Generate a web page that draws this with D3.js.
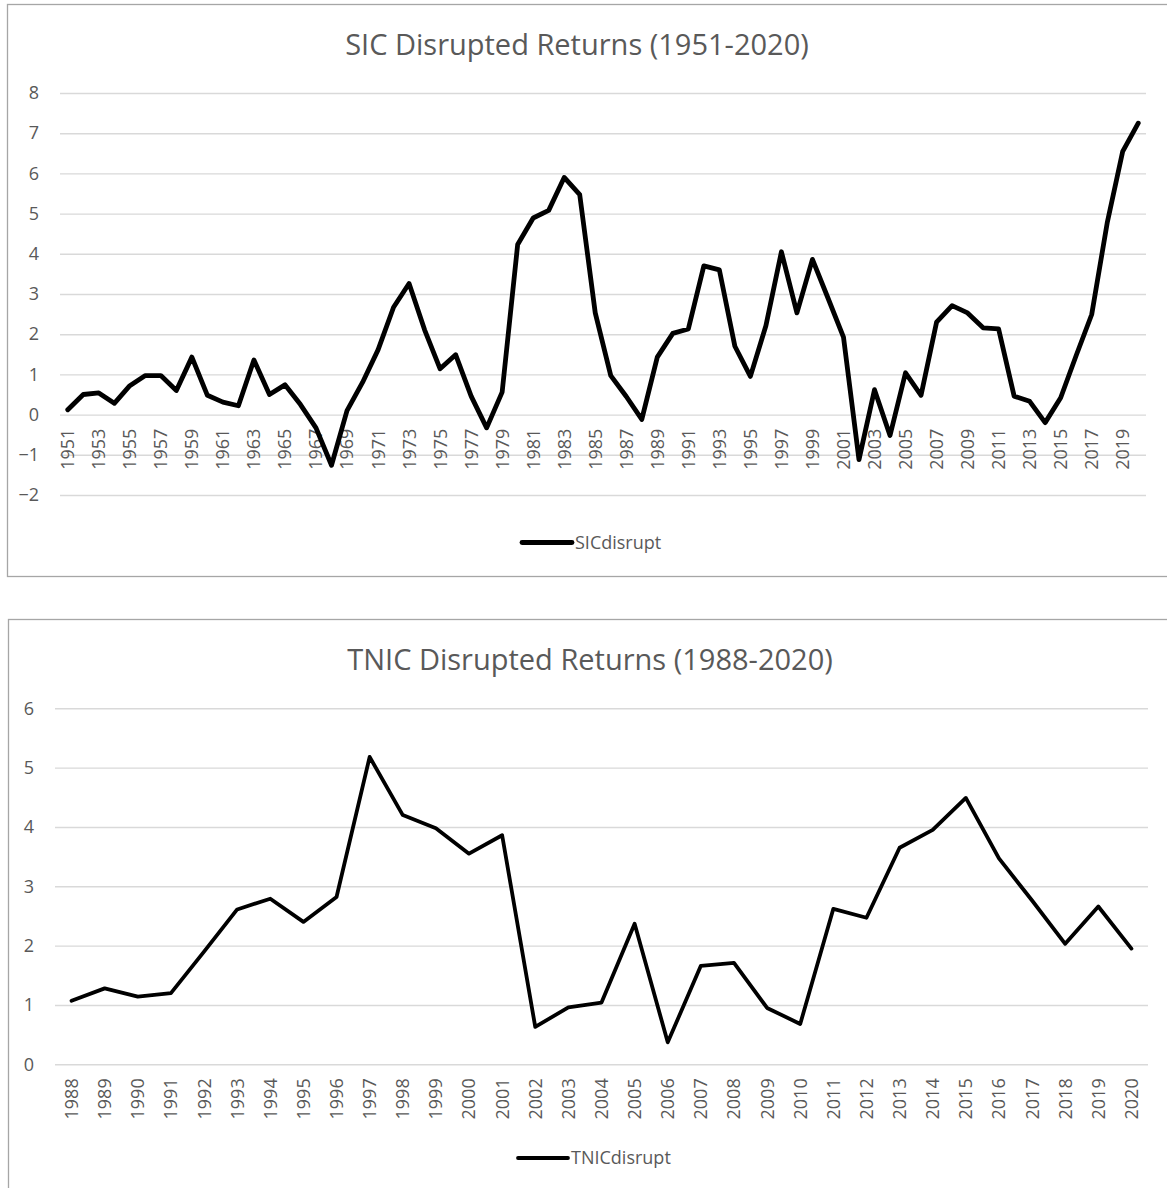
<!DOCTYPE html>
<html>
<head>
<meta charset="utf-8">
<script src="https://cdn.jsdelivr.net/npm/d3@7"></script>
<style>
  body { margin: 0; background: #fff; }
  svg text { font-family: 'Open Sans', sans-serif; fill: #595959; }
</style>
</head>
<body>
<div id="chart"></div>
<script>
// SIC series, 1951-2020
const sicYears = d3.range(1951, 2021).map(String)
const sicValues = [
  0.12, 0.50, 0.54, 0.28, 0.72, 0.97, 0.97, 0.60, 1.43, 0.48,
  0.31, 0.22, 1.36, 0.50, 0.74, 0.25, -0.33, -1.26, 0.10, 0.80,
  1.61, 2.67, 3.26, 2.11, 1.14, 1.49, 0.46, -0.33, 0.56, 4.23,
  4.89, 5.08, 5.90, 5.47, 2.53, 0.97, 0.45, -0.12, 1.43, 2.02,
  2.13, 3.70, 3.60, 1.70, 0.95, 2.21, 4.05, 2.53, 3.86, 2.90,
  1.93, -1.12, 0.62, -0.52, 1.04, 0.48, 2.30, 2.71, 2.53, 2.16,
  2.13, 0.46, 0.33, -0.20, 0.42, 1.47, 2.49, 4.77, 6.55, 7.25
]
const sicTicks = [-2, -1, 0, 1, 2, 3, 4, 5, 6, 7, 8]

// TNIC series, 1988-2020
const tnicYears = d3.range(1988, 2021).map(String)
const tnicValues = [
  1.07, 1.28, 1.14, 1.20, 1.90, 2.61, 2.79, 2.40, 2.82, 5.18,
  4.20, 3.98, 3.55, 3.86, 0.63, 0.96, 1.04, 2.37, 0.37, 1.66,
  1.71, 0.95, 0.68, 2.62, 2.47, 3.65, 3.95, 4.49, 3.47, 2.76,
  2.03, 2.66, 1.95
]
const tnicTicks = [0, 1, 2, 3, 4, 5, 6]

const W = 1167, H = 1188
const svg = d3.select('#chart').append('svg')
  .attr('width', W)
  .attr('height', H)

const drawPanel = (cfg) => {
  const g = svg.append('g')

  g.append('rect')
    .attr('x', cfg.box[0] + 0.5)
    .attr('y', cfg.box[1] + 0.5)
    .attr('width', cfg.box[2])
    .attr('height', cfg.box[3])
    .attr('fill', '#fff')
    .attr('stroke', '#a6a6a6')
    .attr('stroke-width', 1.3)

  g.append('text')
    .attr('x', cfg.titleX)
    .attr('y', cfg.titleY)
    .attr('text-anchor', 'middle')
    .style('font-size', '29px')
    .text(cfg.title)

  const x = d3.scaleBand().domain(cfg.years).range(cfg.xRange)
  const y = d3.scaleLinear().domain(d3.extent(cfg.ticks)).range(cfg.yRange)

  // gridlines + y labels
  const yAxis = g.append('g')
    .attr('transform', 'translate(' + cfg.xRange[0] + ',0)')
    .call(d3.axisLeft(y).tickValues(cfg.ticks).tickFormat(d3.format('d'))
      .tickSize(-(cfg.xRange[1] - cfg.xRange[0])).tickPadding(cfg.yPad))
  yAxis.select('.domain').remove()
  yAxis.selectAll('line').attr('stroke', '#d9d9d9').attr('stroke-width', 1.4)
  yAxis.selectAll('text').style('font-size', '18px').style('fill', '#595959')

  // rotated category labels
  const xAxis = g.append('g')
    .attr('transform', 'translate(0,' + y(0) + ')')
    .call(d3.axisBottom(x).tickSize(0)
      .tickValues(cfg.years.filter((d, i) => i % cfg.every === 0)))
  xAxis.select('.domain').remove()
  xAxis.selectAll('text')
    .style('font-size', '18px')
    .style('fill', '#595959')
    .attr('text-anchor', 'end')
    .attr('transform', 'rotate(-90)')
    .attr('x', -14)
    .attr('y', 0)
    .attr('dy', '0.36em')

  const line = d3.line()
    .x((d, i) => x(cfg.years[i]) + x.bandwidth() / 2)
    .y(d => y(d))

  g.append('path')
    .datum(cfg.values)
    .attr('d', line)
    .attr('fill', 'none')
    .attr('stroke', '#000')
    .attr('stroke-width', cfg.lineW)
    .attr('stroke-linejoin', 'round')
    .attr('stroke-linecap', 'round')

  // legend
  g.append('line')
    .attr('x1', cfg.legend[0])
    .attr('x2', cfg.legend[0] + 50)
    .attr('y1', cfg.legend[1])
    .attr('y2', cfg.legend[1])
    .attr('stroke', '#000')
    .attr('stroke-width', cfg.lineW)
    .attr('stroke-linecap', 'round')
  g.append('text')
    .attr('x', cfg.legend[0] + 53)
    .attr('y', cfg.legend[1])
    .attr('dy', '0.35em')
    .style('font-size', '18px')
    .text(cfg.name)
}

drawPanel({
  box: [7, 4, 1170, 572],
  title: 'SIC Disrupted Returns (1951-2020)',
  titleX: 577, titleY: 55,
  years: sicYears, values: sicValues, ticks: sicTicks,
  xRange: [60, 1146], yRange: [495, 93], yPad: 21, every: 2,
  lineW: 4.8, legend: [522, 542.5], name: 'SICdisrupt'
})

drawPanel({
  box: [8, 619, 1170, 580],
  title: 'TNIC Disrupted Returns (1988-2020)',
  titleX: 590, titleY: 670,
  years: tnicYears, values: tnicValues, ticks: tnicTicks,
  xRange: [55, 1148], yRange: [1064.3, 708.3], yPad: 21, every: 1,
  lineW: 3.8, legend: [518, 1158], name: 'TNICdisrupt'
})
</script>
</body>
</html>
